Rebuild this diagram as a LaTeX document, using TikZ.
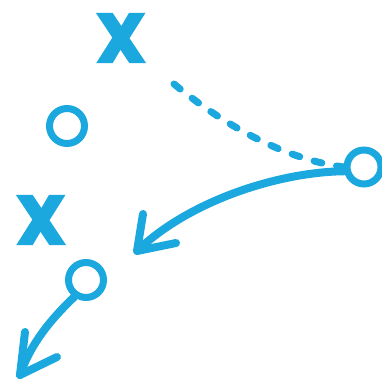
\documentclass[tikz,border=0pt]{standalone}
\usepackage{fontspec}
\newfontfamily\xfont{Poppins}[BoldFeatures={FakeBold=4}]
\definecolor{playblue}{HTML}{1BA8DE}
\begin{document}
\begin{tikzpicture}[x=1pt,y=-1pt,
  player/.style={circle,draw=playblue,line width=7pt,inner sep=0pt,minimum size=34pt},
  defender/.style={text=playblue,inner sep=0pt,font=\xfont\bfseries\fontsize{68}{68}\selectfont},
  run/.style={draw=playblue,line width=8pt,line cap=round,line join=round},
  dashrun/.style={draw=playblue,line width=7pt,line cap=round,dash pattern=on 8pt off 15pt}]
\useasboundingbox (0,0) rectangle (382,379);
\node[defender] (x1) at (121,38) {X};
\node[defender] (x2) at (41,220) {X};
\node[player,minimum size=35pt] (lc) at (67,126) {};
\node[player] (rc) at (364,167) {};
\node[player,minimum size=35pt] (bc) at (86,280) {};
\coordinate (ds) at (174,84);
\coordinate (t1) at (137,251);
\coordinate (a1) at (143,214);
\coordinate (b1) at (176,243);
\coordinate (t2) at (20,375);
\coordinate (a2) at (25,332);
\coordinate (b2) at (57,357);
\path[dashrun] (ds) .. controls (230,130) and (290,160) .. (rc.180);
\path[run] (rc.192) .. controls (280,172) and (190,200) .. (t1);
\path[run] (a1) -- (t1) -- (b1);
\path[run] (bc.235) .. controls (50,320) and (30,345) .. (t2);
\path[run] (a2) -- (t2) -- (b2);
\end{tikzpicture}
\end{document}
